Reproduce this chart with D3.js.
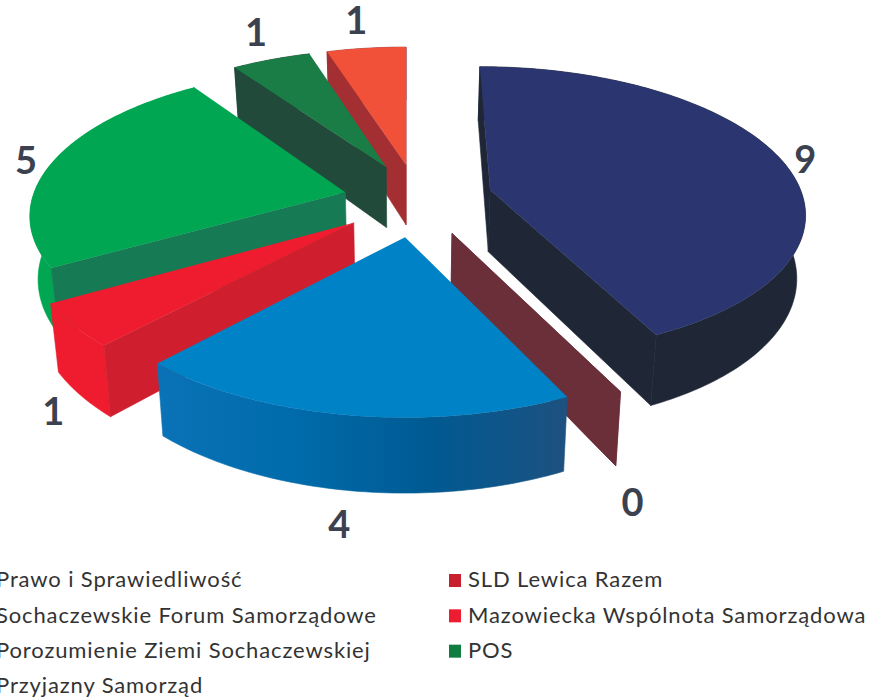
<!DOCTYPE html>
<html>
<head>
<meta charset="utf-8">
<script src="https://cdn.jsdelivr.net/npm/d3@7"></script>
<style>
  html, body { margin: 0; padding: 0; background: #fff; overflow: hidden; }
</style>
</head>
<body>
<div id="chart"></div>
<script>
// slice order around the pie, clockwise from 12 o'clock
const parties = ["Prawo i Sprawiedliwość", "SLD Lewica Razem", "Sochaczewskie Forum Samorządowe",
    "Mazowiecka Wspólnota Samorządowa", "Porozumienie Ziemi Sochaczewskiej", "POS", "Przyjazny Samorząd"];
const seats = [9, 0, 4, 1, 5, 1, 1];

const topColors = ["#2b3670", "#6b2f3a", "#0083c6", "#ee1c2e", "#00a651", "#1a7d45", "#f05138"];
const faceColors = ["#1f2737", "#6b2f3a", "#0a5f9c", "#cf1f2e", "#167a55", "#214a3a", "#a32f32"];
const rimColors = [["#1f2737"], ["#6b2f3a"], ["#0a72b6", "#006bab", "#005a92", "#1d5180"],
    ["#ee1c2e"], ["#00a651"], ["#214a3a"], ["#a32f32"]];

// apex of every exploded slice on the ground plane, pie radius = 1
const apexX = [0.271, 0.142, -0.003, -0.163, -0.195, -0.065, 0];
const apexY = [-0.035, 0.26, 0.285, 0.19, -0.02, -0.2, -0.22];
// painter's order, far slices first
const drawOrder = [6, 5, 4, 0, 1, 3, 2];
// value label, pixels away from the middle of the slice rim
const labelDx = [24, 12, -9, -20, -27, -15, -10];
const labelDy = [-2, 109, 108, 85, -3, -29, -29];

const legendLeft = ["Prawo i Sprawiedliwość", "Sochaczewskie Forum Samorządowe",
    "Porozumienie Ziemi Sochaczewskiej", "Przyjazny Samorząd"];
const legendRight = ["SLD Lewica Razem", "Mazowiecka Wspólnota Samorządowa", "POS"];
const legendLeftColors = ["#2b3670", "#0083c6", "#00a651", "#f05138"];
const legendRightColors = ["#c8202f", "#ee1c30", "#0f7c40"];

const width = 886, height = 700;
const centerX = 406, centerY = 195;
const radiusX = 312, radiusY = 142, persp = 0.14, depth = 62, shrink = 0.022;

const svg = d3.select("#chart").append("svg")
    .attr("width", width)
    .attr("height", height)
    .style("display", "block");

// ground plane (x right, y towards the viewer, z 0 top / 1 bottom) to screen
function project(x, y, z) {
    const w = 1 - persp * y;
    const k = radiusY / persp;
    return [
        centerX + radiusX * x / w * (1 - shrink * z),
        centerY + k / w - k + depth * z / w
    ];
}

const arcs = d3.pie().sort(null).startAngle(0).endAngle(2 * Math.PI)(seats);
const defs = svg.append("defs");
const line = d3.line();

function rimPoint(i, angle, z) {
    return project(apexX[i] + Math.sin(angle), apexY[i] - Math.cos(angle), z);
}

function rimAngles(d) {
    const n = Math.max(1, Math.ceil((d.endAngle - d.startAngle) * 180 / Math.PI));
    return d3.range(n + 1).map(k => d.startAngle + (d.endAngle - d.startAngle) * k / n);
}

const pie = svg.append("g");

drawOrder.forEach(i => {
    const d = arcs[i];
    const angles = rimAngles(d);
    const apexTop = project(apexX[i], apexY[i], 0);
    const apexBottom = project(apexX[i], apexY[i], 1);
    const g = pie.append("g").attr("class", "slice");

    // outer wall
    const rimTop = angles.map(a => rimPoint(i, a, 0));
    const rimBottom = angles.map(a => rimPoint(i, a, 1)).reverse();
    let rimFill = rimColors[i][0];
    if (rimColors[i].length > 1) {
        const xs = d3.extent(rimTop, p => p[0]);
        const id = "rim" + i;
        defs.append("linearGradient")
            .attr("id", id)
            .attr("gradientUnits", "userSpaceOnUse")
            .attr("x1", xs[0]).attr("x2", xs[1])
            .attr("y1", 0).attr("y2", 0)
            .selectAll("stop")
            .data(rimColors[i])
            .join("stop")
            .attr("offset", (c, k) => k / (rimColors[i].length - 1))
            .attr("stop-color", c => c);
        rimFill = `url(#${id})`;
    }
    if (d.endAngle > d.startAngle) {
        g.append("path")
            .attr("d", line(rimTop.concat(rimBottom)) + "Z")
            .attr("fill", rimFill)
            .attr("stroke", rimFill)
            .attr("stroke-width", 0.6);
    }

    // the two cut faces, back-facing ones are skipped
    [[d.startAngle, 1], [d.endAngle, -1]].forEach(([angle, sign]) => {
        const face = [apexTop, rimPoint(i, angle, 0), rimPoint(i, angle, 1), apexBottom];
        if (d.endAngle > d.startAngle && d3.polygonArea(face) * sign < 0) return;
        g.append("path")
            .attr("d", line(face) + "Z")
            .attr("fill", faceColors[i])
            .attr("stroke", faceColors[i])
            .attr("stroke-width", 0.6);
    });

    // top
    if (d.endAngle > d.startAngle) {
        g.append("path")
            .attr("d", line([apexTop].concat(rimTop)) + "Z")
            .attr("fill", topColors[i]);
    }
});

// value labels
svg.append("g")
    .selectAll("text")
    .data(arcs)
    .join("text")
    .attr("x", (d, i) => rimPoint(i, (d.startAngle + d.endAngle) / 2, 0)[0] + labelDx[i])
    .attr("y", (d, i) => rimPoint(i, (d.startAngle + d.endAngle) / 2, 0)[1] + labelDy[i])
    .attr("text-anchor", "middle")
    .attr("dominant-baseline", "central")
    .attr("font-family", "Lato, sans-serif")
    .attr("font-weight", 700)
    .attr("font-size", 38)
    .attr("fill", "#3c4150")
    .text(d => d.data);

function addLegend(names, colors, x) {
    const y = d3.scalePoint().domain(d3.range(4)).range([580, 686]);
    const legend = svg.append("g");
    legend.selectAll("rect")
        .data(names)
        .join("rect")
        .attr("x", x - 19)
        .attr("y", (d, i) => y(i) - 6)
        .attr("width", 12)
        .attr("height", 13)
        .attr("fill", (d, i) => colors[i]);
    legend.selectAll("text")
        .data(names)
        .join("text")
        .attr("x", x)
        .attr("y", (d, i) => y(i))
        .attr("dy", "0.33em")
        .attr("font-family", "Lato, sans-serif")
        .attr("font-size", 22)
        .attr("letter-spacing", 0.875)
        .attr("fill", "#333")
        .text(d => d);
}

addLegend(legendLeft, legendLeftColors, -4);
addLegend(legendRight, legendRightColors, 468);
</script>
</body>
</html>
